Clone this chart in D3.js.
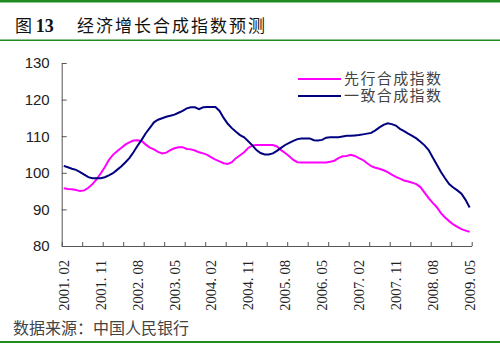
<!DOCTYPE html>
<html>
<head>
<meta charset="utf-8">
<script src="https://cdn.jsdelivr.net/npm/d3@7"></script>
<style>
  body { margin: 0; background: #fff; }
  svg { display: block; }
</style>
</head>
<body>
<script>
// monthly categories 2001.02 .. 2009.05
var months = d3.range(100).map(function (i) {
  var m = 1 + i, yr = 2001 + Math.floor(m / 12);
  return yr + ". " + String(m % 12 + 1).padStart(2, "0");
});

var labelMonths = ["2001. 02", "2001. 11", "2002. 08", "2003. 05", "2004. 02", "2004. 11",
                   "2005. 08", "2006. 05", "2007. 02", "2007. 11", "2008. 08", "2009. 05"];

var yTicks = [80, 90, 100, 110, 120, 130];

// 先行合成指数
var leading = [
  95.8, 95.6, 95.5, 95.3, 95.0, 95.2, 95.9, 96.9, 98.2, 99.8,
  101.5, 103.5, 104.9, 105.9, 106.8, 107.7, 108.3, 108.8, 108.9, 108.7,
  107.7, 106.9, 106.4, 105.7, 105.3, 105.5, 106.2, 106.7, 107.0, 107.0,
  106.5, 106.4, 106.1, 105.6, 105.3, 104.9, 104.2, 103.6, 103.1, 102.6,
  102.4, 102.9, 104.0, 104.8, 105.6, 106.8, 107.5, 107.6, 107.6, 107.6,
  107.6, 107.6, 107.2, 106.2, 105.4, 104.5, 103.5, 102.9, 102.8, 102.8,
  102.8, 102.8, 102.8, 102.8, 102.8, 103.0, 103.3, 104.0, 104.5, 104.6,
  104.9, 104.6, 104.0, 103.5, 102.6, 101.8, 101.4, 101.1, 100.7, 100.2,
  99.5, 98.9, 98.4, 97.9, 97.6, 97.3, 96.9, 96.1, 94.6, 93.1,
  91.8, 90.6, 89.0, 87.8, 86.8, 85.9, 85.2, 84.6, 84.2, 83.9
];

// 一致合成指数
var coincident = [
  101.9, 101.5, 101.1, 100.8, 100.2, 99.5, 98.8, 98.5, 98.5, 98.5,
  98.8, 99.3, 99.9, 100.8, 101.7, 102.8, 104.0, 105.6, 107.4, 109.0,
  110.8, 112.3, 113.8, 114.5, 114.9, 115.3, 115.6, 115.9, 116.4, 116.9,
  117.6, 117.9, 117.9, 117.4, 117.9, 118.0, 118.0, 118.0, 116.9, 115.0,
  113.4, 112.2, 111.2, 110.3, 109.7, 108.6, 107.5, 106.2, 105.4, 105.0,
  105.0, 105.3, 106.0, 106.8, 107.6, 108.2, 108.7, 109.2, 109.4, 109.4,
  109.4, 108.9, 108.8, 109.0, 109.6, 109.7, 109.7, 109.7, 109.9, 110.1,
  110.1, 110.2, 110.3, 110.5, 110.7, 110.9, 111.6, 112.4, 113.1, 113.5,
  113.3, 112.9, 112.0, 111.4, 110.7, 110.1, 109.4, 108.5, 107.5, 106.2,
  104.2, 102.2, 100.2, 98.5, 96.9, 96.0, 95.2, 94.3, 92.6, 90.5
];

var width = 500, height = 352;
var plot = { left: 61.7, right: 471.7, top: 63, bottom: 246 };

var svg = d3.select("body").append("svg")
  .attr("width", width)
  .attr("height", height);

var green = "#1e8c1e";

// frame lines
svg.append("rect").attr("x", 0).attr("y", 0).attr("width", width).attr("height", 2.5).attr("fill", green);
svg.append("rect").attr("x", 0).attr("y", 39.5).attr("width", width).attr("height", 1.5).attr("fill", green);
svg.append("rect").attr("x", 0).attr("y", 341).attr("width", width).attr("height", 2).attr("fill", green);

// title
var title = svg.append("text")
  .attr("x", 15).attr("y", 32)
  .attr("font-family", "'Noto Sans CJK SC', sans-serif")
  .attr("font-size", 17)
  .attr("fill", "#111");
title.append("tspan").text("图 ");
title.append("tspan").attr("font-family", "'Liberation Serif', serif").attr("font-weight", "bold").attr("font-size", 18).text("13");
title.append("tspan").attr("x", 77).attr("letter-spacing", 2).text("经济增长合成指数预测");

// source
svg.append("text")
  .attr("x", 13).attr("y", 334)
  .attr("font-family", "'Noto Sans CJK SC', sans-serif")
  .attr("font-size", 16)
  .attr("fill", "#444")
  .text("数据来源：中国人民银行");

var x = d3.scaleBand().domain(months).range([plot.left, plot.right]).paddingInner(0).paddingOuter(0);
var xb = d3.scaleLinear().domain([0, months.length]).range([plot.left, plot.right]);
var y = d3.scaleLinear().domain([80, 130]).range([plot.bottom, plot.top]);

// y axis
var gy = svg.append("g")
  .attr("transform", "translate(" + plot.left + ",0)")
  .call(d3.axisLeft(y).tickValues(yTicks).tickSizeInner(-5).tickSizeOuter(0).tickPadding(12));
gy.select(".domain").attr("stroke", "#555");
gy.selectAll(".tick line").attr("stroke", "#555");
gy.selectAll("text")
  .attr("font-family", "'Liberation Sans', Arial, sans-serif")
  .attr("font-size", 15)
  .attr("fill", "#222");

// x axis: tick marks between categories every 5 months
var gx = svg.append("g")
  .attr("transform", "translate(0," + plot.bottom + ")")
  .call(d3.axisBottom(xb).tickValues(d3.range(0, 101, 5)).tickSizeInner(-4).tickSizeOuter(0).tickFormat(""));
gx.select(".domain").attr("stroke", "#555");
gx.selectAll(".tick line").attr("stroke", "#555");

// x labels every 9 months
var gl = svg.append("g")
  .attr("transform", "translate(0," + plot.bottom + ")")
  .call(d3.axisBottom(x).tickValues(labelMonths).tickSize(0));
gl.select(".domain").remove();
gl.selectAll("text")
  .attr("transform", "rotate(-90)")
  .attr("x", -14)
  .attr("y", 0)
  .attr("dy", "0.35em")
  .attr("text-anchor", "end")
  .attr("font-family", "'Liberation Serif', serif")
  .attr("font-size", 14.5)
  .attr("fill", "#222");

var line = d3.line()
  .x(function (d, i) { return x(months[i]) + x.bandwidth() / 2; })
  .y(function (d) { return y(d); });

svg.append("path").datum(leading)
  .attr("fill", "none").attr("stroke", "#ff00ff").attr("stroke-width", 2)
  .attr("d", line);

svg.append("path").datum(coincident)
  .attr("fill", "none").attr("stroke", "#000080").attr("stroke-width", 2)
  .attr("d", line);

// legend
var legend = [
  { name: "先行合成指数", color: "#ff00ff", y: 79 },
  { name: "一致合成指数", color: "#000080", y: 96 }
];
var lg = svg.append("g");
legend.forEach(function (d) {
  lg.append("line")
    .attr("x1", 298).attr("x2", 341).attr("y1", d.y).attr("y2", d.y)
    .attr("stroke", d.color).attr("stroke-width", 2);
  lg.append("text")
    .attr("x", 344).attr("y", d.y).attr("dy", "0.36em")
    .attr("font-family", "'Noto Sans CJK SC', sans-serif")
    .attr("font-size", 15)
    .attr("letter-spacing", 1.4)
    .attr("fill", "#444")
    .text(d.name);
});
</script>
</body>
</html>
